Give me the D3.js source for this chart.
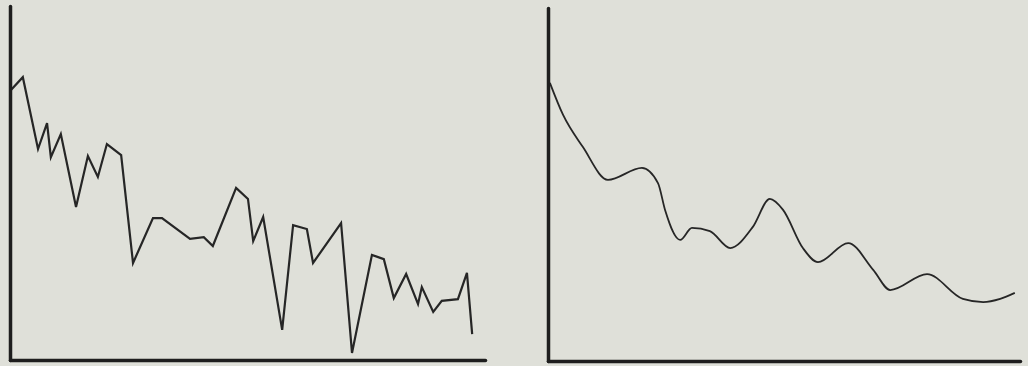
<!DOCTYPE html>
<html>
<head>
<meta charset="utf-8">
<script src="https://cdn.jsdelivr.net/npm/d3@7"></script>
<style>
  html, body { margin: 0; padding: 0; background: #dfe0d9; }
  svg { display: block; }
</style>
</head>
<body>
<div id="chart"></div>
<script>
// left panel: jagged series (x and y both on 0-100 scales)
var leftX = [0.2, 2.7, 5.9, 7.8, 8.6, 10.7, 13.9, 16.4, 18.5, 20.4, 23.4, 25.9, 30.1, 32.0,
             37.9, 40.8, 42.7, 47.6, 50.1, 51.2, 53.3, 57.3, 59.6, 62.5, 63.8, 69.7, 72.0,
             76.2, 78.7, 80.8, 83.4, 85.9, 86.7, 89.1, 90.9, 94.3, 96.2, 97.3];
var leftY = [76.3, 79.9, 59.6, 66.9, 57.3, 63.8, 43.2, 57.6, 51.7, 61.0, 57.9, 27.4, 40.1, 40.1,
             34.2, 34.7, 32.2, 48.6, 45.5, 33.6, 40.4, 8.5, 38.1, 37.0, 27.4, 38.7, 2.0,
             29.7, 28.5, 17.5, 24.3, 15.8, 20.6, 13.6, 16.7, 17.2, 24.6, 7.3];

// right panel: smoothed series
var rightX = [0.4, 3.2, 7.4, 12.7, 19.9, 23.3, 24.8, 28.0, 30.5, 34.3, 38.6, 43.4, 47.0,
              49.8, 54.0, 57.2, 63.6, 68.9, 72.5, 80.3, 87.9, 92.2, 95.8, 98.9];
var rightY = [78.8, 69.7, 60.6, 51.3, 54.7, 50.4, 42.8, 34.3, 37.7, 36.8, 32.0, 38.0, 45.9,
              42.8, 32.0, 28.0, 33.4, 25.8, 20.1, 24.6, 17.6, 16.7, 17.6, 19.3];

var width = 1028, height = 366;

var svg = d3.select("#chart").append("svg")
    .attr("width", width)
    .attr("height", height);

function panel(xs, ys, x0, x1, y0, y1, curve, sw) {
    var x = d3.scaleLinear().domain([0, 100]).range([x0, x1]);
    var y = d3.scaleLinear().domain([0, 100]).range([y0, y1]);
    var pts = xs.map(function(d, i) { return [d, ys[i]]; });

    var line = d3.line()
        .x(function(d) { return x(d[0]); })
        .y(function(d) { return y(d[1]); })
        .curve(curve);

    svg.append("path")
        .datum(pts)
        .attr("fill", "none")
        .attr("stroke", "#262626")
        .attr("stroke-width", sw)
        .attr("stroke-linejoin", "miter")
        .attr("d", line);

    var yAxis = svg.append("g")
        .attr("transform", "translate(" + x0 + ",0)")
        .call(d3.axisLeft(y).ticks(0).tickSizeOuter(0));
    var xAxis = svg.append("g")
        .attr("transform", "translate(0," + y0 + ")")
        .call(d3.axisBottom(x).ticks(0).tickSizeOuter(0));

    [yAxis, xAxis].forEach(function(a) {
        a.select(".domain")
            .attr("stroke", "#1e1e1e")
            .attr("stroke-width", 3.5)
            .attr("stroke-linecap", "round");
    });
}

panel(leftX, leftY, 10, 485, 360, 6, d3.curveLinear, 2.2);
panel(rightX, rightY, 548, 1020, 361, 8, d3.curveMonotoneX, 1.8);
</script>
</body>
</html>
